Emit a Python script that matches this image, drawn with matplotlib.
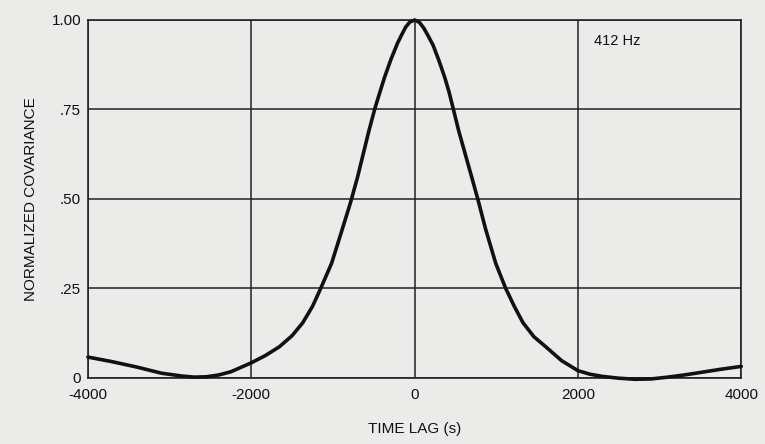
import matplotlib.pyplot as plt

plt.rcParams['font.family'] = ['Liberation Sans', 'DejaVu Sans']

# Time lag (s) and normalized covariance
lag = [-4000, -3700, -3400, -3100, -2850, -2700, -2550, -2400, -2250,
       -2140, -2000, -1830, -1655, -1500, -1370, -1250, -1150, -1017,
       -900, -785, -700, -630, -560, -490, -430, -368, -290, -208, -160,
       -110, -60, 0, 60, 110, 160, 225, 300, 368, 420, 475, 540, 620,
       700, 773, 870, 993, 1115, 1220, 1327, 1460, 1605, 1800, 2000,
       2150, 2300, 2500, 2700, 2900, 3100, 3300, 3500, 3750, 4000]
cov = [0.058, 0.045, 0.03, 0.013, 0.005, 0.002, 0.003, 0.008, 0.017,
       0.028, 0.042, 0.062, 0.087, 0.118, 0.154, 0.2, 0.25, 0.32,
       0.405, 0.49, 0.56, 0.625, 0.69, 0.75, 0.795, 0.84, 0.89, 0.936, 0.958,
       0.98, 0.994, 1.0, 0.993, 0.978, 0.958, 0.93, 0.885, 0.84, 0.8, 0.75,
       0.69, 0.625, 0.56, 0.5, 0.415, 0.32, 0.25, 0.2, 0.154, 0.115, 0.087,
       0.048, 0.02, 0.01, 0.004, -0.001, -0.004, -0.003, 0.002, 0.008,
       0.015, 0.024, 0.032]

xticks = [-4000, -2000, 0, 2000, 4000]
yticks = [0, 0.25, 0.5, 0.75, 1.0]
ylabels = ["0", ".25", ".50", ".75", "1.00"]

bg = "#ebebea"
fig = plt.figure(figsize=(7.65, 4.44), dpi=100, facecolor=bg)
ax = fig.add_axes([0.115, 0.149, 0.854, 0.806], facecolor=bg)

ax.plot(lag, cov, color="#111111", lw=2.6, solid_capstyle="round",
        solid_joinstyle="round", zorder=3, clip_on=False)

ax.set_xlim(-4000, 4000)
ax.set_ylim(0, 1.0)
ax.set_xticks(xticks)
ax.set_xticklabels([str(t) for t in xticks])
ax.set_yticks(yticks)
ax.set_yticklabels(ylabels)
ax.grid(True, color="#222222", lw=1.1)
ax.tick_params(length=0, labelsize=11, colors="#111111")
ax.tick_params(axis="x", pad=7)
ax.tick_params(axis="y", pad=5)
for s in ax.spines.values():
    s.set_color("#222222")
    s.set_linewidth(1.2)

ax.set_xlabel("TIME LAG (s)", fontsize=11, color="#111111", labelpad=15)
ax.set_ylabel("NORMALIZED COVARIANCE", fontsize=11, color="#111111", labelpad=10)
ax.text(2200, 0.93, "412 Hz", fontsize=10.5, color="#111111")

fig.savefig("out.png", dpi=100, facecolor=bg)
